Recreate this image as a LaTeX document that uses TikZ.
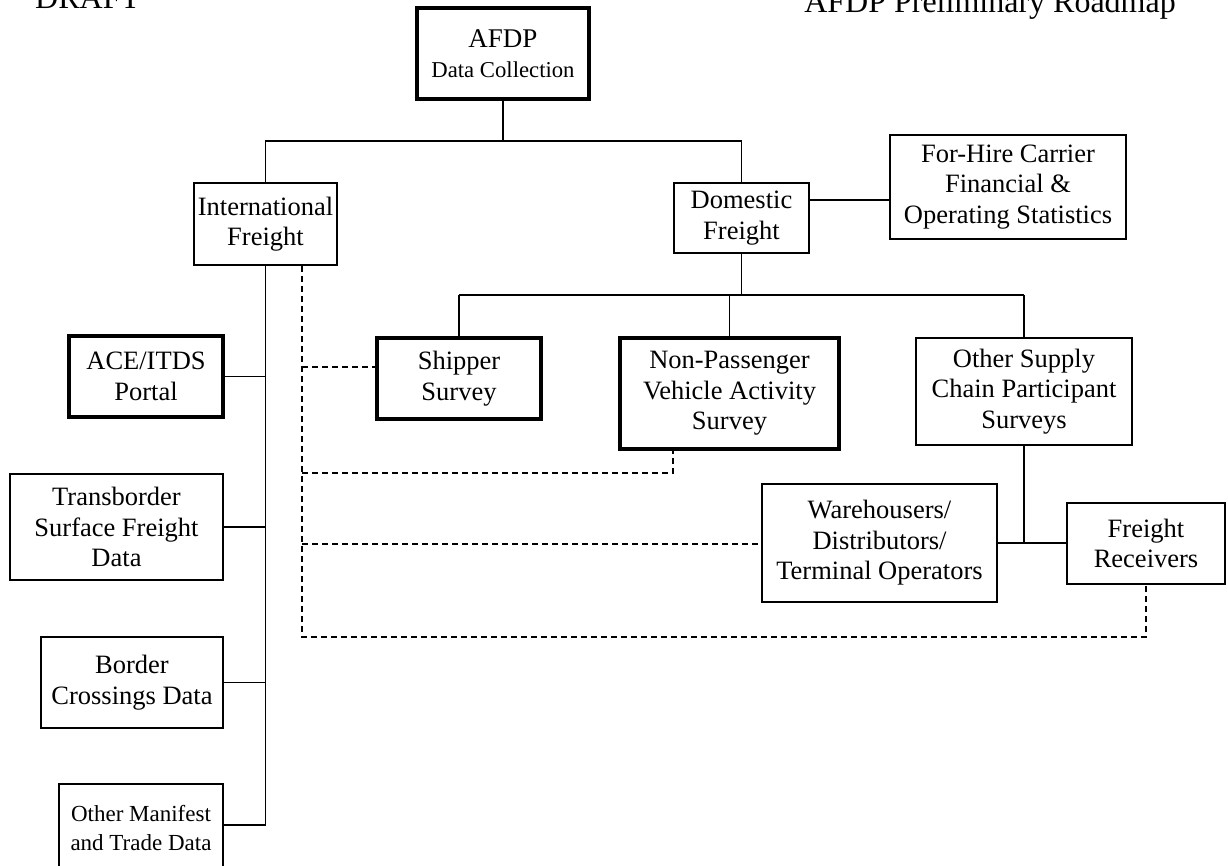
\documentclass[tikz,border=0pt]{standalone}
\usepackage{fontspec}
\setmainfont{Liberation Serif}
\begin{document}
\begin{tikzpicture}[x=1pt,y=-1pt,
  box/.style={draw, line width=1.5pt, align=center, inner sep=0pt, font=\fontsize{26.5}{30.5}\selectfont},
  thickbox/.style={box, line width=4.5pt},
  smallbox/.style={box, font=\fontsize{23}{29}\selectfont},
  conn/.style={line width=1.5pt},
  dconn/.style={line width=1.3pt, dash pattern=on 6pt off 4pt},
  header/.style={inner sep=0pt, font=\fontsize{32}{36}\selectfont}]
\useasboundingbox (0,0) rectangle (1228,865);

% headers
\node[header, anchor=base west] (draft) at (35,8) {DRAFT};
\node[header, anchor=base east] (title) at (1176,12) {AFDP Preliminary Roadmap};

% nodes
\node[thickbox, minimum width=172pt, minimum height=91pt] (afdp) at (503,53.5)
  {{\fontsize{27}{30}\selectfont AFDP}\\[-1pt]{\fontsize{22.7}{28}\selectfont Data Collection}};
\node[box, minimum width=143pt, minimum height=82pt] (intl) at (265.5,224) {International\\Freight};
\node[box, minimum width=135pt, minimum height=70pt] (dom) at (741.5,218) {Domestic\\Freight};
\node[box, minimum width=236pt, minimum height=104pt] (fhc) at (1008,187) {For-Hire Carrier\\Financial \&\\Operating Statistics};
\node[thickbox, minimum width=164pt, minimum height=81pt] (ship) at (459,378.5) {Shipper\\Survey};
\node[thickbox, minimum width=219pt, minimum height=111pt] (npv) at (729.5,393.5) {Non-Passenger\\Vehicle Activity\\Survey};
\node[box, minimum width=216pt, minimum height=107pt] (osc) at (1024,391.5) {Other Supply\\Chain Participant\\Surveys};
\node[box, minimum width=235pt, minimum height=118pt] (wdt) at (879.5,543) {Warehousers/\\Distributors/\\Terminal Operators};
\node[box, minimum width=158pt, minimum height=81pt] (fr) at (1146,543.5) {Freight\\Receivers};
\node[thickbox, minimum width=154pt, minimum height=81pt] (ace) at (146,376.5) {ACE/ITDS\\Portal};
\node[box, minimum width=213pt, minimum height=106pt] (tsf) at (116.5,527) {Transborder\\Surface Freight\\Data};
\node[box, minimum width=182pt, minimum height=91pt] (bcd) at (132,682.5) {Border\\Crossings Data};
\node[smallbox, minimum width=164pt, minimum height=88pt] (om) at (141,828) {Other Manifest\\and Trade Data};

% solid connectors
\coordinate (j0) at (503,141);
\draw[conn] (afdp.south) -- (j0);
\draw[conn] (intl.north) -- (intl.north |- j0) -- (dom.north |- j0) -- (dom.north);
\coordinate (j1) at (850,200);
\draw[conn] (dom.east |- j1) -- (fhc.west |- j1);
\coordinate (j2) at (742,295);
\draw[conn] (dom.south) -- (dom.south |- j2);
\draw[conn] (ship.north |- j2) -- (osc.north |- j2);
\draw[conn] (ship.north) -- (ship.north |- j2);
\draw[conn] (npv.north) -- (npv.north |- j2);
\draw[conn] (osc.north) -- (osc.north |- j2);
\draw[conn] (osc.south) -- (osc.south |- wdt.east);
\draw[conn] (wdt.east) -- (fr.west |- wdt.east);

\coordinate (tb) at (265.5,825);
\draw[conn] (intl.south) -- (tb);
\draw[conn] (ace.east) -- (ace.east -| tb);
\draw[conn] (tsf.east) -- (tsf.east -| tb);
\draw[conn] (bcd.east) -- (bcd.east -| tb);
\draw[conn] (om.east |- tb) -- (tb);

% dashed connectors
\coordinate (db) at (302,637);
\draw[dconn] (intl.south -| db) -- (db) -| (fr.south);
\coordinate (d1) at (302,367);
\draw[dconn] (d1) -- (ship.west |- d1);
\coordinate (d2) at (302,473);
\coordinate (d2e) at (673,473);
\draw[dconn] (d2) -- (d2e) -- (d2e |- npv.south);
\coordinate (d3) at (302,544);
\draw[dconn] (d3) -- (wdt.west |- d3);
\end{tikzpicture}
\end{document}
